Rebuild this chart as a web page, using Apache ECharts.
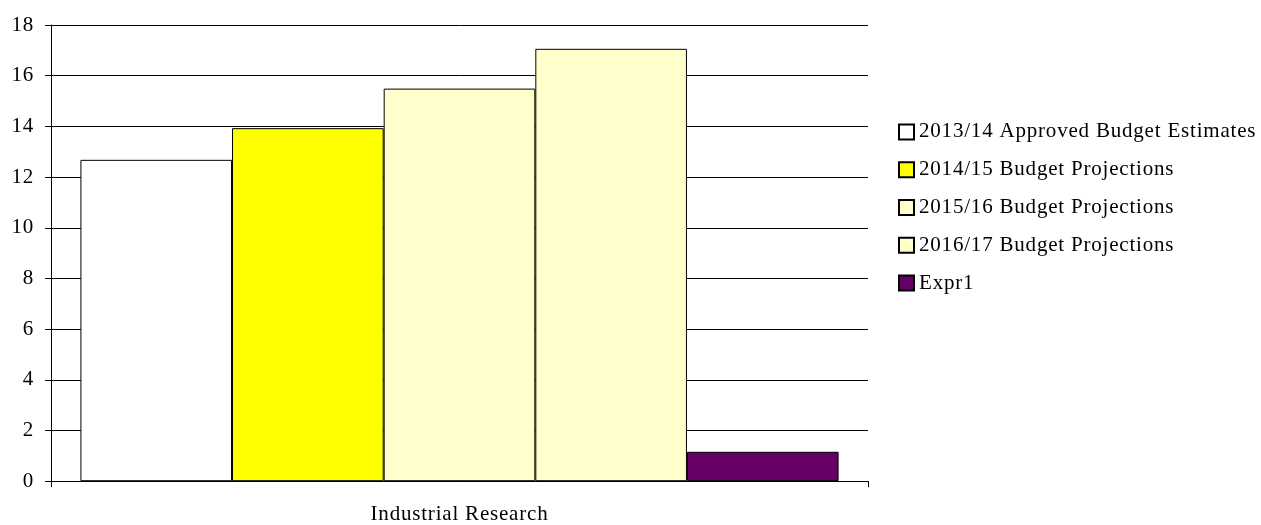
<!DOCTYPE html>
<html>
<head>
<meta charset="utf-8">
<script src="https://cdn.jsdelivr.net/npm/echarts@6/dist/echarts.min.js"></script>
<style>html,body{margin:0;padding:0;background:#fff;}#c{width:1261px;height:525px;}</style>
</head>
<body>
<div id="c"></div>
<script>
const categories = ['Industrial Research'];
const seriesNames = ['2013/14 Approved Budget Estimates', '2014/15 Budget Projections', '2015/16 Budget Projections', '2016/17 Budget Projections', 'Expr1'];
const seriesColors = ['#FFFFFF', '#FFFF00', '#FFFFCC', '#FFFFCC', '#660066'];
const values2013 = [12.68];
const values2014 = [13.93];
const values2015 = [15.49];
const values2016 = [17.06];
const valuesExpr1 = [1.16];
const seriesValues = [values2013, values2014, values2015, values2016, valuesExpr1];

// slightly wider letter spacing, as in the reference typesetting
(function () {
  const proto = CanvasRenderingContext2D.prototype;
  const desc = Object.getOwnPropertyDescriptor(proto, 'font');
  if (desc && desc.set && ('letterSpacing' in proto)) {
    Object.defineProperty(proto, 'font', {
      configurable: true,
      get: desc.get,
      set(v) { desc.set.call(this, v); this.letterSpacing = '0.8px'; }
    });
  }
})();

const font = 'Liberation Serif';
const chart = echarts.init(document.getElementById('c'));
chart.setOption({
  animation: false,
  textStyle: { fontFamily: font, color: '#000' },
  grid: { left: 51, right: 393, top: 25, bottom: 42, containLabel: false },
  legend: {
    orient: 'vertical', left: 898, top: 121, itemGap: 16, padding: 0,
    itemWidth: 15, itemHeight: 15, icon: 'rect',
    textStyle: { fontFamily: font, fontSize: 21, color: '#000' },
    data: seriesNames
  },
  xAxis: {
    type: 'category', data: categories,
    axisLine: { lineStyle: { color: '#000', width: 1 } },
    axisTick: { show: true, length: 6, lineStyle: { color: '#000' } },
    axisLabel: { fontFamily: font, fontSize: 21, color: '#000', margin: 22 }
  },
  yAxis: {
    type: 'value', min: 0, max: 18, interval: 2,
    axisLine: { show: true, lineStyle: { color: '#000', width: 1 } },
    axisTick: { show: true, length: 6, lineStyle: { color: '#000' } },
    axisLabel: { fontFamily: font, fontSize: 21, color: '#000', margin: 17 },
    splitLine: { show: true, lineStyle: { color: '#000', width: 1 } }
  },
  series: seriesNames.map((n, i) => ({
    name: n, type: 'bar', data: seriesValues[i],
    barGap: '0%', barCategoryGap: '7.2%',
    itemStyle: { color: seriesColors[i], borderColor: '#000', borderWidth: 1 }
  }))
});
</script>
</body>
</html>
